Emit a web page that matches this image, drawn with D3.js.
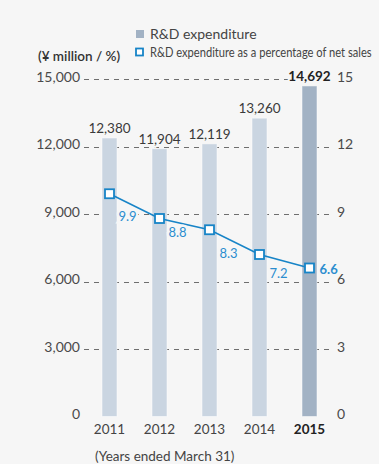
<!DOCTYPE html>
<html><head><meta charset="utf-8">
<script src="https://cdn.jsdelivr.net/npm/d3@7/dist/d3.min.js"></script>
<style>
html,body{margin:0;padding:0;background:#f6f6f6;}
svg{display:block;font-family:Lato,"Open Sans",sans-serif;}
</style></head>
<body>
<svg id="chart" width="379" height="464"></svg>
<script>
const years = ["2011","2012","2013","2014","2015"];
const rdExpenditure = [12380, 11904, 12119, 13260, 14692];
const rdPercent = [9.9, 8.8, 8.3, 7.2, 6.6];
const leftTicks = [0, 3000, 6000, 9000, 12000, 15000];
const rightTicks = [0, 3, 6, 9, 12, 15];
const pctLabelOffsets = [[18,23],[18,14],[19,24],[19,19],[10,1]];

const svg = d3.select("#chart");
const W = 379, H = 464;
const BG = "#f6f6f6";
svg.append("rect").attr("width",W).attr("height",H).attr("fill",BG);

const x = d3.scaleBand().domain(years).range([84.5, 334.5]).paddingInner(0.7).paddingOuter(0.35);
const y = d3.scaleLinear().domain([0,15000]).range([416.5, 79]);
const y2 = d3.scaleLinear().domain([0,15]).range([416.5, 79]);

// gridlines
svg.append("g").selectAll("line").data(leftTicks.filter(d=>d>0)).join("line")
  .attr("x1",84).attr("x2",333)
  .attr("y1",d=>Math.round(y(d))+0.5).attr("y2",d=>Math.round(y(d))+0.5)
  .attr("stroke","#6e6e6e").attr("stroke-width",1).attr("stroke-dasharray","5,5");

// left axis
const leftAxis = d3.axisLeft(y).tickValues(leftTicks).tickSize(0).tickPadding(0)
  .tickFormat(d3.format(","));
const gl = svg.append("g").attr("transform","translate(80,0)").call(leftAxis);
gl.select(".domain").remove();
gl.selectAll("text").attr("font-size",14).attr("fill","#4a4a4a").attr("font-family","Lato,sans-serif").attr("dy","0.15em");

// right axis
const rightAxis = d3.axisRight(y2).tickValues(rightTicks).tickSize(0).tickPadding(0);
const gr = svg.append("g").attr("transform","translate(337,0)").call(rightAxis);
gr.select(".domain").remove();
gr.selectAll("text").attr("font-size",14).attr("fill","#4a4a4a").attr("font-family","Lato,sans-serif").attr("dy","0.15em");

// bars
svg.append("g").selectAll("rect").data(years).join("rect")
  .attr("x",d=>x(d)).attr("width",x.bandwidth())
  .attr("y",(d,i)=>y(rdExpenditure[i]))
  .attr("height",(d,i)=>y(0)-y(rdExpenditure[i]))
  .attr("fill",(d,i)=>i===years.length-1?"#a2b2c4":"#cad5e1")
  .attr("stroke","#ffffff").attr("stroke-opacity",0.5).attr("stroke-width",1);

// bar value labels
svg.append("g").selectAll("text").data(years).join("text")
  .attr("x",d=>x(d)+x.bandwidth()/2)
  .attr("y",(d,i)=>y(rdExpenditure[i])-5)
  .attr("text-anchor","middle")
  .attr("font-size",13.5)
  .attr("font-weight",(d,i)=>i===years.length-1?700:400)
  .attr("fill",(d,i)=>i===years.length-1?"#222":"#3a3a3a")
  .attr("paint-order","stroke").attr("stroke",BG).attr("stroke-width",4)
  .text((d,i)=>d3.format(",")(rdExpenditure[i]));

// percentage line
const cx = d=>x(d)+x.bandwidth()/2;
const line = d3.line().x((d,i)=>cx(years[i])).y(d=>y2(d));
svg.append("path").datum(rdPercent).attr("d",line)
  .attr("fill","none").attr("stroke","#1784c7").attr("stroke-width",1.6);

svg.append("g").selectAll("rect").data(rdPercent).join("rect")
  .attr("x",(d,i)=>cx(years[i])-4.5).attr("y",d=>y2(d)-4.5)
  .attr("width",9).attr("height",9)
  .attr("fill","#ffffff").attr("stroke","#1784c7").attr("stroke-width",1.8);

// percentage labels
svg.append("g").selectAll("text").data(rdPercent).join("text")
  .attr("x",(d,i)=>cx(years[i])+pctLabelOffsets[i][0])
  .attr("y",(d,i)=>y2(d)+pctLabelOffsets[i][1])
  .attr("dy","0.35em")
  .attr("text-anchor",(d,i)=>i===rdPercent.length-1?"start":"middle")
  .attr("font-size",13)
  .attr("font-weight",(d,i)=>i===rdPercent.length-1?700:400)
  .attr("fill","#2b8dcf")
  .attr("paint-order","stroke").attr("stroke",BG).attr("stroke-width",5)
  .text(d=>d.toFixed(1));

// x axis labels
const xAxis = d3.axisBottom(x).tickSize(0).tickPadding(0);
const gx = svg.append("g").attr("transform","translate(0,434)").call(xAxis);
gx.select(".domain").remove();
gx.selectAll("text").attr("dy",0).attr("font-size",13.5).attr("font-family","Lato,sans-serif")
  .attr("fill",(d,i)=>i===years.length-1?"#222":"#444")
  .attr("font-weight",(d,i)=>i===years.length-1?700:400);

svg.append("text").attr("x",95).attr("y",461).attr("font-size",13.5).attr("fill","#444")
  .text("(Years ended March 31)");

// unit label
svg.append("text").attr("x",38).attr("y",61).attr("font-size",13.5).attr("font-weight",600)
  .attr("fill","#333").text("(¥ million / %)");

// legend
svg.append("rect").attr("x",136).attr("y",30).attr("width",8).attr("height",8).attr("fill","#a2b2c4");
svg.append("text").attr("x",150).attr("y",39).attr("font-size",14).attr("fill","#444")
  .text("R&D expenditure");
svg.append("rect").attr("x",136).attr("y",48.5).attr("width",7).attr("height",7)
  .attr("fill","#fff").attr("stroke","#1784c7").attr("stroke-width",1.8);
const lg2 = svg.append("text").attr("x",0).attr("y",0).attr("font-size",12.5).attr("fill","#444")
  .text("R&D expenditure as a percentage of net sales");
const natural = lg2.node().getComputedTextLength();
const sx = Math.min(1, 222 / natural);
lg2.attr("transform",`translate(150,57) scale(${sx},1)`);
</script>
</body></html>
